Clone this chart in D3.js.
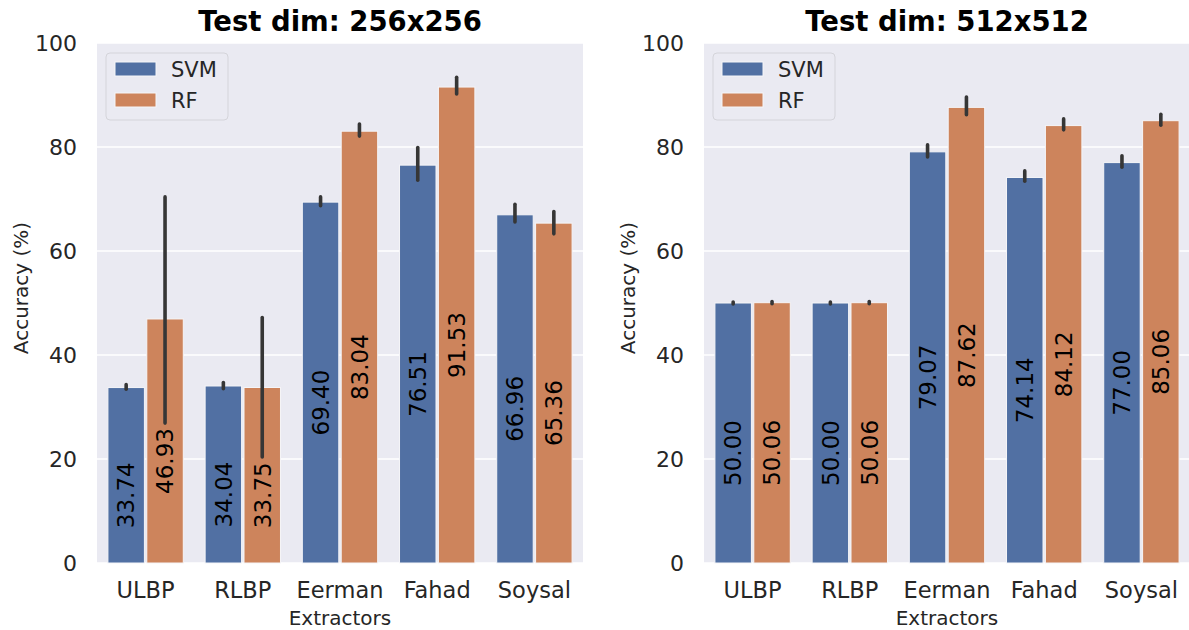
<!DOCTYPE html>
<html>
<head>
<meta charset="utf-8">
<script src="https://cdn.jsdelivr.net/npm/d3@7"></script>
<style>
  html, body { margin: 0; padding: 0; background: #fff; }
  svg { display: block; font-family: "DejaVu Sans", sans-serif; }
</style>
</head>
<body>
<svg id="chart"></svg>
<script>
// values
const extractors = ["ULBP", "RLBP", "Eerman", "Fahad", "Soysal"];
const models = ["SVM", "RF"];
const yTicks = [0, 20, 40, 60, 80, 100];

const svm256 = [33.74, 34.04, 69.40, 76.51, 66.96];
const rf256 = [46.93, 33.75, 83.04, 91.53, 65.36];
const svm256Err = [[33.4, 34.3], [33.5, 34.7], [68.7, 70.4], [73.6, 79.9], [65.6, 69.0]];
const rf256Err = [[26.9, 70.4], [20.4, 47.2], [82.1, 84.4], [90.2, 93.4], [63.3, 67.6]];

const svm512 = [50.00, 50.00, 79.07, 74.14, 77.00];
const rf512 = [50.06, 50.06, 87.62, 84.12, 85.06];
const svm512Err = [[49.8, 50.2], [49.8, 50.2], [78.1, 80.4], [73.4, 75.4], [76.1, 78.3]];
const rf512Err = [[49.85, 50.3], [49.85, 50.3], [86.2, 89.6], [83.3, 85.4], [84.2, 86.3]];

const colors = { SVM: "#5170a3", RF: "#cd845c" };

const width = 1189, height = 630;
const svg = d3.select("#chart").attr("width", width).attr("height", height);

const panels = [
    { title: "Test dim: 256x256", left: 97, svm: svm256, rf: rf256, svmErr: svm256Err, rfErr: rf256Err },
    { title: "Test dim: 512x512", left: 704, svm: svm512, rf: rf512, svmErr: svm512Err, rfErr: rf512Err }
];

const plotW = 486, plotTop = 43, plotBottom = 563;

const y = d3.scaleLinear().domain([0, 100]).range([plotBottom, plotTop]);

panels.forEach(function (p) {
    const g = svg.append("g");

    const x = d3.scaleBand().domain(extractors).range([p.left, p.left + plotW]).padding(0);
    const hue = d3.scaleBand().domain(models)
        .range([-x.bandwidth() * 0.4, x.bandwidth() * 0.4]).padding(0);

    // background
    g.append("rect")
        .attr("x", p.left).attr("y", plotTop)
        .attr("width", plotW).attr("height", plotBottom - plotTop)
        .attr("fill", "#eaeaf2");

    // grid
    g.selectAll(".grid")
        .data(yTicks)
        .enter().append("line")
        .attr("x1", p.left).attr("x2", p.left + plotW)
        .attr("y1", d => y(d)).attr("y2", d => y(d))
        .attr("stroke", "#fff").attr("stroke-width", 1.3);

    // y tick labels
    g.selectAll(".ytick")
        .data(yTicks)
        .enter().append("text")
        .attr("x", p.left - 20)
        .attr("y", d => y(d))
        .attr("dy", "0.35em")
        .attr("text-anchor", "end")
        .attr("font-size", 22)
        .attr("fill", "#262626")
        .text(d => d);

    // x tick labels
    g.selectAll(".xtick")
        .data(extractors)
        .enter().append("text")
        .attr("x", d => x(d) + x.bandwidth() / 2)
        .attr("y", 598)
        .attr("text-anchor", "middle")
        .attr("font-size", 22.5)
        .attr("fill", "#262626")
        .text(d => d);

    // axis labels
    g.append("text")
        .attr("x", p.left + plotW / 2)
        .attr("y", 625)
        .attr("text-anchor", "middle")
        .attr("font-size", 20)
        .attr("fill", "#262626")
        .text("Extractors");

    g.append("text")
        .attr("transform", "translate(" + (p.left - 69) + "," + 288 + ") rotate(-90)")
        .attr("text-anchor", "middle")
        .attr("font-size", 20)
        .attr("fill", "#262626")
        .text("Accuracy (%)");

    // title
    g.append("text")
        .attr("x", p.left + plotW / 2)
        .attr("y", 31)
        .attr("text-anchor", "middle")
        .attr("font-size", 27.5)
        .attr("font-weight", "bold")
        .attr("fill", "#000")
        .text(p.title);

    const rows = [];
    extractors.forEach(function (e, i) {
        rows.push({ cat: e, model: "SVM", value: p.svm[i], err: p.svmErr[i] });
        rows.push({ cat: e, model: "RF", value: p.rf[i], err: p.rfErr[i] });
    });

    const cx = d => x(d.cat) + x.bandwidth() / 2 + hue(d.model) + hue.bandwidth() / 2;

    // bars
    g.selectAll(".bar")
        .data(rows)
        .enter().append("rect")
        .attr("x", d => x(d.cat) + x.bandwidth() / 2 + hue(d.model) + 1.2)
        .attr("width", hue.bandwidth() - 2.4)
        .attr("y", d => y(d.value))
        .attr("height", d => y(0) - y(d.value))
        .attr("fill", d => colors[d.model])
        .attr("stroke", "#f5f5f8")
        .attr("stroke-width", 1);

    // error bars
    g.selectAll(".err")
        .data(rows)
        .enter().append("line")
        .attr("x1", cx).attr("x2", cx)
        .attr("y1", d => y(d.err[0])).attr("y2", d => y(d.err[1]))
        .attr("stroke", "#363636")
        .attr("stroke-width", 3.6)
        .attr("stroke-linecap", "round");

    // value labels
    g.selectAll(".lbl")
        .data(rows)
        .enter().append("text")
        .attr("transform", d => "translate(" + cx(d) + "," + (y(d.value / 2) + 20) + ") rotate(-90)")
        .attr("text-anchor", "middle")
        .attr("dy", "0.36em")
        .attr("font-size", 23)
        .attr("fill", "#000")
        .text(d => d.value.toFixed(2));

    // legend
    const lg = g.append("g").attr("transform", "translate(" + (p.left + 9) + "," + 53 + ")");
    lg.append("rect")
        .attr("width", 122).attr("height", 67)
        .attr("rx", 4).attr("ry", 4)
        .attr("fill", "#eaeaf2")
        .attr("stroke", "#d4d4da")
        .attr("stroke-width", 1);
    models.forEach(function (m, i) {
        lg.append("rect")
            .attr("x", 9).attr("y", 9 + i * 31)
            .attr("width", 41).attr("height", 14)
            .attr("fill", colors[m])
            .attr("stroke", "#f5f5f8").attr("stroke-width", 1);
        lg.append("text")
            .attr("x", 65).attr("y", 16 + i * 31)
            .attr("dy", "0.36em")
            .attr("font-size", 21)
            .attr("fill", "#262626")
            .text(m);
    });
});
</script>
</body>
</html>
